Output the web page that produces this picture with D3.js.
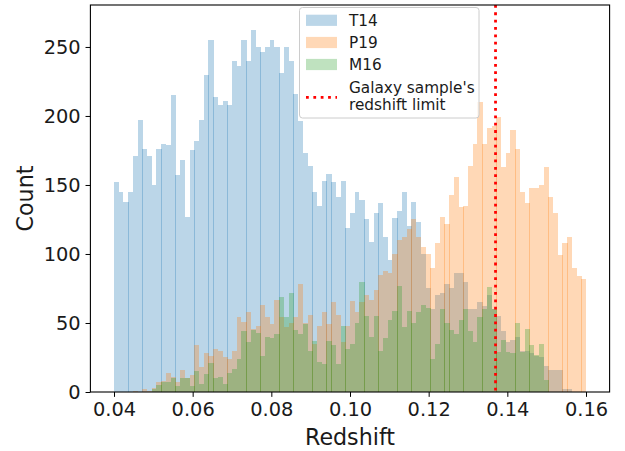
<!DOCTYPE html>
<html>
<head>
<meta charset="utf-8">
<script src="https://cdn.jsdelivr.net/npm/d3@7"></script>
<style>
  html, body { margin: 0; padding: 0; background: #ffffff; }
  svg { display: block; font-family: "DejaVu Sans", sans-serif; }
</style>
</head>
<body>
<svg id="chart" width="625" height="451"></svg>
<script>
// ---- data (histogram counts, 100 bins from 0.04 to 0.16) ----
const binStart = 0.04;
const binEnd = 0.16;
const nBins = 100;
const T14 = [152,145,138,145,171,197,176,171,150,176,
  180,179,215,157,168,127,175,182,197,230,
  255,214,208,211,208,240,236,255,240,262,
  250,246,250,255,250,231,250,240,216,196,
  173,164,145,135,153,158,152,141,153,119,
  130,145,139,125,109,130,137,112,96,126,
  131,145,120,138,123,100,75,60,70,72,
  78,75,86,86,80,60,60,65,62,70,
  60,55,44,36,38,40,30,30,28,26,
  25,19,16,16,16,2,2,0,0,0];
const P19 = [0,0,0,0,1,0,2,1,3,7,
  8,14,11,7,16,10,12,34,18,28,
  26,31,30,25,24,30,54,51,58,46,
  48,63,54,49,67,54,47,50,54,78,
  50,56,35,48,58,49,65,56,36,48,
  66,58,65,70,67,74,85,88,86,100,
  110,112,118,125,112,105,100,90,108,127,
  122,143,156,134,135,164,180,210,180,191,
  193,199,163,173,190,176,145,137,148,148,
  150,163,141,130,99,108,112,90,84,82];
const M16 = [0,0,0,0,0,0,0,0,2,5,
  7,7,10,4,10,10,4,15,6,13,
  21,10,11,6,14,17,24,44,36,45,
  43,26,40,39,42,69,54,72,45,42,
  49,30,37,22,20,37,34,20,48,31,
  35,50,80,55,40,55,30,39,52,59,
  77,47,59,50,58,63,61,24,35,60,
  50,45,42,52,60,44,36,54,60,76,
  60,29,38,29,28,50,29,46,34,27,
  35,9,0,0,0,0,0,0,0,0];
const seriesNames = ["T14", "P19", "M16"];
const seriesColors = ["#1f77b4", "#ff7f0e", "#2ca02c"];
const xTicks = [0.04, 0.06, 0.08, 0.10, 0.12, 0.14, 0.16];
const yTicks = [0, 50, 100, 150, 200, 250];
const redshiftLimit = 0.137;
const limitLabel = ["Galaxy sample's", "redshift limit"];

// ---- layout ----
const svg = d3.select("#chart");
const L = 90.4, R = 609.6, T = 5, B = 392;
const x = d3.scaleLinear().domain([0.034, 0.166]).range([L, R]);
const y = d3.scaleLinear().domain([0, 280.4]).range([B, T]);
const edges = d3.range(nBins + 1).map(i => binStart + i * (binEnd - binStart) / nBins);

function snapEdge(px) {
  const f = px - Math.floor(px);
  if (f >= 0.1 && f < 0.4) return { l: Math.floor(px), r: Math.floor(px) + 1 };
  const r = Math.round(px);
  return { l: r, r: r };
}

const barsG = svg.append("g");
[T14, P19, M16].forEach((vals, s) => {
  barsG.append("g")
    .selectAll("rect")
    .data(vals.map((v, i) => ({ v, i })).filter(d => d.v > 0))
    .join("rect")
    .attr("shape-rendering", "crispEdges")
    .attr("x", d => snapEdge(x(edges[d.i])).l)
    .attr("width", d => snapEdge(x(edges[d.i + 1])).r - snapEdge(x(edges[d.i])).l)
    .attr("y", d => Math.round(y(d.v)))
    .attr("height", d => B - Math.round(y(d.v)))
    .attr("fill", seriesColors[s])
    .attr("fill-opacity", 0.3);
});

// red dotted limit line
svg.append("line")
  .attr("x1", x(redshiftLimit)).attr("x2", x(redshiftLimit))
  .attr("y1", T).attr("y2", B)
  .attr("stroke", "#ff0000").attr("stroke-width", 2.78)
  .attr("stroke-dasharray", "2.78,4.58");

// axes
const tickLen = 4.86, pad = 4.86;
const xAxis = svg.append("g").attr("transform", `translate(0,${B})`)
  .call(d3.axisBottom(x).tickValues(xTicks).tickFormat(d3.format(".2f"))
    .tickSize(tickLen).tickPadding(pad).tickSizeOuter(0));
const yAxis = svg.append("g").attr("transform", `translate(${L},0)`)
  .call(d3.axisLeft(y).tickValues(yTicks).tickFormat(d3.format("d"))
    .tickSize(tickLen).tickPadding(pad).tickSizeOuter(0));
[xAxis, yAxis].forEach(g => {
  g.select(".domain").remove();
  g.selectAll(".tick line").attr("stroke", "#000").attr("stroke-width", 1.0);
  g.selectAll(".tick text").attr("fill", "#1a1a1a")
    .style("font-family", "'DejaVu Sans', sans-serif").style("font-size", "19.4px");
});
xAxis.selectAll(".tick text").attr("dy", "0.74em");
yAxis.selectAll(".tick text").attr("dy", "0.36em");

svg.append("rect").attr("x", L).attr("y", T).attr("width", R - L).attr("height", B - T)
  .attr("fill", "none").attr("stroke", "#000").attr("stroke-width", 1.1);

// axis labels
svg.append("text").attr("x", (L + R) / 2).attr("y", 445).attr("text-anchor", "middle")
  .style("font-size", "22.2px").attr("fill", "#1a1a1a").text("Redshift");
svg.append("text").attr("transform", `translate(32.5,${(T + B) / 2}) rotate(-90)`)
  .attr("text-anchor", "middle").style("font-size", "22.2px").attr("fill", "#1a1a1a").text("Count");

// legend
const lg = svg.append("g");
lg.append("rect").attr("x", 299.5).attr("y", 7.5).attr("width", 179.5).attr("height", 110.5)
  .attr("rx", 3).attr("fill", "#ffffff").attr("fill-opacity", 0.8)
  .attr("stroke", "#cccccc").attr("stroke-width", 1);
const rowsY = [20.3, 42.5, 64.5];
seriesNames.forEach((n, i) => {
  lg.append("rect").attr("x", 306).attr("y", rowsY[i] - 5.6).attr("width", 31).attr("height", 11.2)
    .attr("fill", seriesColors[i]).attr("fill-opacity", 0.3);
  lg.append("text").attr("x", 349).attr("y", rowsY[i] + 5.6)
    .style("font-size", "15.3px").attr("fill", "#1a1a1a").text(n);
});
lg.append("line").attr("x1", 306).attr("x2", 337).attr("y1", 97.3).attr("y2", 97.3)
  .attr("stroke", "#ff0000").attr("stroke-width", 2.78).attr("stroke-dasharray", "2.78,4.58");
limitLabel.forEach((t, i) => {
  lg.append("text").attr("x", 349).attr("y", 92.7 + i * 17.5)
    .style("font-size", "15.3px").attr("fill", "#1a1a1a").text(t);
});
</script>
</body>
</html>
